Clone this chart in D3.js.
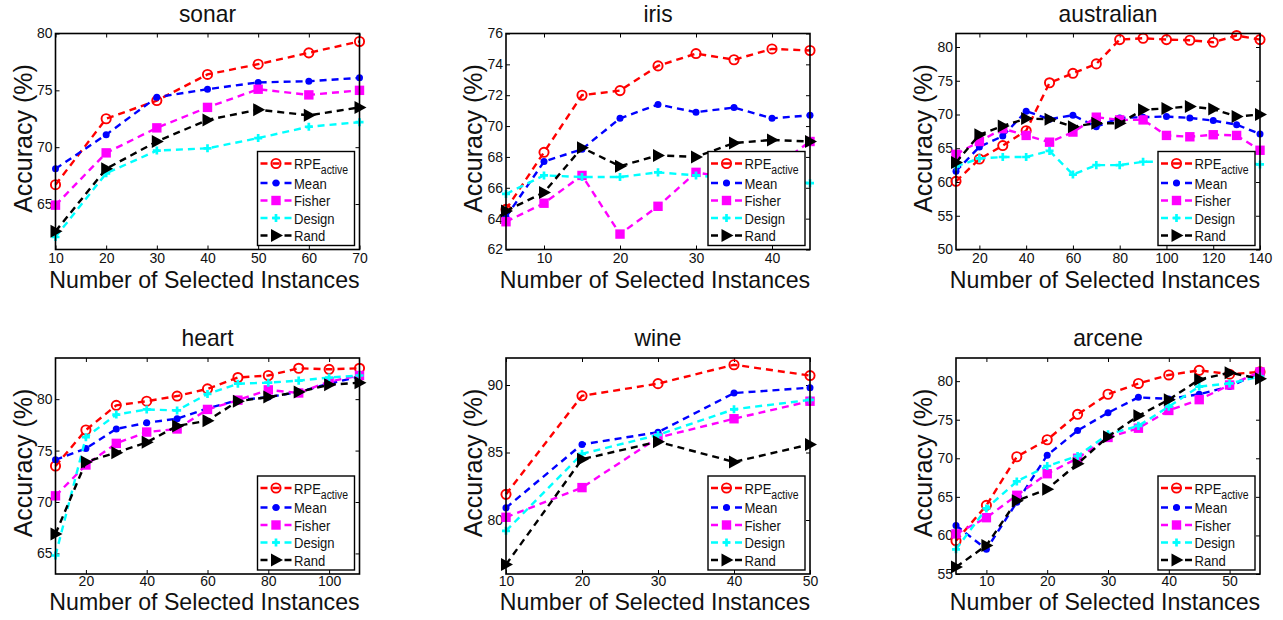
<!DOCTYPE html>
<html>
<head>
<meta charset="utf-8">
<script src="https://cdn.jsdelivr.net/npm/d3@7"></script>
<style>
  body { margin: 0; background: #fff; }
  svg { display: block; font-family: "Liberation Sans", Arial, sans-serif; }
</style>
</head>
<body>
<svg id="chart" width="1283" height="620"></svg>
<script>
// ---- data ----
const seriesNames = ["RPE", "Mean", "Fisher", "Design", "Rand"];

const sonarX = [10, 20, 30, 40, 50, 60, 70];
const sonarRPE = [66.7, 72.5, 74.1, 76.4, 77.3, 78.3, 79.3];
const sonarMean = [68.1, 71.1, 74.4, 75.1, 75.7, 75.8, 76.1];
const sonarFisher = [64.9, 69.5, 71.7, 73.5, 75.1, 74.6, 75.0];
const sonarDesign = [62.1, 67.7, 69.7, 69.9, 70.8, 71.8, 72.2];
const sonarRand = [62.6, 68.1, 70.5, 72.4, 73.3, 72.8, 73.5];

const irisX = [5, 10, 15, 20, 25, 30, 35, 40, 45];
const irisRPE = [64.6, 68.3, 72.0, 72.3, 73.9, 74.7, 74.3, 75.0, 74.9];
const irisMean = [64.1, 67.7, 68.5, 70.5, 71.4, 70.9, 71.2, 70.5, 70.7];
const irisFisher = [63.8, 65.0, 66.8, 63.0, 64.8, 67.0, 66.6, 67.2, 69.0];
const irisDesign = [65.6, 66.8, 66.7, 66.7, 67.0, 66.8, 66.6, 66.5, 66.3];
const irisRand = [64.5, 65.7, 68.6, 67.4, 68.1, 68.0, 68.9, 69.1, 69.0];

const australianX = [10, 20, 30, 40, 50, 60, 70, 80, 90, 100, 110, 120, 130, 140];
const australianRPE = [60.1, 63.4, 65.4, 67.6, 74.7, 76.1, 77.5, 81.1, 81.3, 81.1, 81.0, 80.7, 81.7, 81.1];
const australianMean = [61.6, 65.2, 66.8, 70.5, 69.3, 69.9, 68.2, 69.5, 69.6, 69.7, 69.5, 69.1, 68.5, 67.1];
const australianFisher = [64.1, 66.0, 67.9, 66.9, 65.9, 67.4, 69.6, 69.2, 69.2, 66.9, 66.7, 67.0, 66.9, 64.7];
const australianDesign = [62.3, 63.5, 63.7, 63.7, 64.6, 61.1, 62.5, 62.5, 63.0, 63.0, 63.1, 63.2, 63.0, 62.6];
const australianRand = [62.9, 67.0, 68.3, 69.4, 69.3, 68.2, 68.7, 68.7, 70.7, 70.9, 71.2, 70.8, 69.7, 70.0];

const heartX = [10, 20, 30, 40, 50, 60, 70, 80, 90, 100, 110];
const heartRPE = [73.5, 77.0, 79.4, 79.8, 80.3, 81.0, 82.1, 82.3, 83.0, 82.9, 83.0];
const heartMean = [74.1, 75.2, 77.1, 77.7, 78.1, 79.1, 79.9, 80.2, 80.7, 81.5, 82.2];
const heartFisher = [70.6, 73.6, 75.7, 76.8, 77.1, 79.0, 79.9, 80.9, 80.6, 81.7, 82.3];
const heartDesign = [64.8, 76.3, 78.5, 79.0, 78.9, 80.5, 81.5, 81.6, 81.8, 82.1, 82.3];
const heartRand = [66.9, 73.9, 74.8, 75.8, 77.4, 77.9, 79.8, 80.2, 80.7, 81.4, 81.6];

const wineX = [10, 20, 30, 40, 50];
const wineRPE = [81.9, 89.2, 90.1, 91.5, 90.7];
const wineMean = [80.9, 85.6, 86.5, 89.4, 89.8];
const wineFisher = [80.2, 82.4, 86.1, 87.5, 88.8];
const wineDesign = [79.2, 84.9, 86.3, 88.2, 88.9];
const wineRand = [76.7, 84.5, 85.8, 84.3, 85.6];

const arceneX = [5, 10, 15, 20, 25, 30, 35, 40, 45, 50, 55];
const arceneRPE = [59.3, 63.9, 70.2, 72.4, 75.7, 78.3, 79.7, 80.8, 81.4, 80.9, 81.2];
const arceneMean = [61.3, 58.2, 64.3, 70.4, 73.6, 75.9, 77.9, 77.7, 78.3, 79.3, 81.1];
const arceneFisher = [60.2, 62.3, 65.2, 68.0, 70.0, 72.7, 73.9, 76.2, 77.6, 79.5, 81.2];
const arceneDesign = [58.2, 63.5, 67.0, 69.0, 70.3, 73.1, 74.2, 76.7, 79.3, 79.7, 80.6];
const arceneRand = [55.9, 58.7, 64.5, 66.0, 69.3, 72.8, 75.5, 77.6, 80.2, 81.1, 80.3];

// axis limits and tick labels
const sonarXTicks = [10, 20, 30, 40, 50, 60, 70], sonarYTicks = [65, 70, 75, 80];
const irisXTicks = [10, 20, 30, 40], irisYTicks = [62, 64, 66, 68, 70, 72, 74, 76];
const australianXTicks = [20, 40, 60, 80, 100, 120, 140], australianYTicks = [50, 55, 60, 65, 70, 75, 80];
const heartXTicks = [20, 40, 60, 80, 100], heartYTicks = [65, 70, 75, 80];
const wineXTicks = [10, 20, 30, 40, 50], wineYTicks = [80, 85, 90];
const arceneXTicks = [10, 20, 30, 40, 50], arceneYTicks = [55, 60, 65, 70, 75, 80];

const panels = [
  { title: "sonar", col: 0, row: 0, x: sonarX, xDomain: [10, 70], yDomain: [61, 80], xTicks: sonarXTicks, yTicks: sonarYTicks,
    ys: [sonarRPE, sonarMean, sonarFisher, sonarDesign, sonarRand] },
  { title: "iris", col: 1, row: 0, x: irisX, xDomain: [5, 45], yDomain: [62, 76], xTicks: irisXTicks, yTicks: irisYTicks,
    ys: [irisRPE, irisMean, irisFisher, irisDesign, irisRand] },
  { title: "australian", col: 2, row: 0, x: australianX, xDomain: [10, 140], yDomain: [50, 82], xTicks: australianXTicks, yTicks: australianYTicks,
    ys: [australianRPE, australianMean, australianFisher, australianDesign, australianRand] },
  { title: "heart", col: 0, row: 1, x: heartX, xDomain: [10, 110], yDomain: [63, 84], xTicks: heartXTicks, yTicks: heartYTicks,
    ys: [heartRPE, heartMean, heartFisher, heartDesign, heartRand] },
  { title: "wine", col: 1, row: 1, x: wineX, xDomain: [10, 50], yDomain: [76, 92], xTicks: wineXTicks, yTicks: wineYTicks,
    ys: [wineRPE, wineMean, wineFisher, wineDesign, wineRand] },
  { title: "arcene", col: 2, row: 1, x: arceneX, xDomain: [5, 55], yDomain: [55, 83], xTicks: arceneXTicks, yTicks: arceneYTicks,
    ys: [arceneRPE, arceneMean, arceneFisher, arceneDesign, arceneRand] }
];

// ---- layout ----
const colLeft = [55.5, 506, 956];
const rowTop = [33.5, 358];
const plotW = 304;
const plotH = 216;
const titleY = [22, 346];
const xLabelY = [287.5, 609.5];
const xTickPad = [3.5, 2.5];

const colors = ["#ff0000", "#0000ff", "#ff00ff", "#00ffff", "#000000"];
const svg = d3.select("#chart");

// the figure's text is drawn narrow: squeeze horizontally
function condense(sel, f) {
  sel.each(function () {
    const w = this.getComputedTextLength();
    d3.select(this).attr("textLength", w * f).attr("lengthAdjust", "spacingAndGlyphs");
  });
}

function drawMarker(g, i, cx, cy) {
  const c = colors[i];
  if (i === 0) {
    g.append("circle").attr("cx", cx).attr("cy", cy).attr("r", 4.6)
     .attr("fill", "none").attr("stroke", c).attr("stroke-width", 1.9);
  } else if (i === 1) {
    g.append("circle").attr("cx", cx).attr("cy", cy).attr("r", 3.5).attr("fill", c);
  } else if (i === 2) {
    g.append("rect").attr("x", cx - 4.7).attr("y", cy - 4.7).attr("width", 9.4).attr("height", 9.4).attr("fill", c);
  } else if (i === 3) {
    g.append("path").attr("d", d3.symbol(d3.symbolCross, 36)())
     .attr("transform", `translate(${cx},${cy})`).attr("fill", c);
  } else {
    g.append("path").attr("d", "M-5,-6.5L7,0L-5,6.5Z")
     .attr("transform", `translate(${cx},${cy})`).attr("fill", c);
  }
}

panels.forEach(p => {
  const left = colLeft[p.col], top = rowTop[p.row];
  const x = d3.scaleLinear().domain(p.xDomain).range([left, left + plotW]);
  const y = d3.scaleLinear().domain(p.yDomain).range([top + plotH, top]);
  const g = svg.append("g");

  // axes with inward ticks on all four sides
  const axB = g.append("g").attr("transform", `translate(0,${top + plotH})`)
    .call(d3.axisBottom(x).tickValues(p.xTicks).tickSizeInner(-4).tickSizeOuter(0).tickPadding(xTickPad[p.row]));
  const axT = g.append("g").attr("transform", `translate(0,${top})`)
    .call(d3.axisTop(x).tickValues(p.xTicks).tickSizeInner(-4).tickSizeOuter(0).tickFormat(""));
  const axL = g.append("g").attr("transform", `translate(${left},0)`)
    .call(d3.axisLeft(y).tickValues(p.yTicks).tickSizeInner(-4).tickSizeOuter(0).tickPadding(3));
  const axR = g.append("g").attr("transform", `translate(${left + plotW},0)`)
    .call(d3.axisRight(y).tickValues(p.yTicks).tickSizeInner(-4).tickSizeOuter(0).tickFormat(""));
  [axB, axT, axL, axR].forEach(a => {
    a.select(".domain").remove();
    a.selectAll("line").attr("stroke", "#000").attr("stroke-width", 1);
    a.selectAll("text").attr("font-size", 14).attr("fill", "#111")
     .attr("font-family", "'Liberation Sans', Arial, sans-serif");
  });

  // series
  const line = d3.line().x((d, j) => x(p.x[j])).y(d => y(d));
  p.ys.forEach((vals, i) => {
    g.append("path").datum(vals).attr("d", line)
     .attr("fill", "none").attr("stroke", colors[i]).attr("stroke-width", 2.4)
     .attr("stroke-dasharray", "7,5");
    const mg = g.append("g");
    vals.forEach((v, j) => drawMarker(mg, i, x(p.x[j]), y(v)));
  });

  // frame
  g.append("rect").attr("x", left).attr("y", top).attr("width", plotW).attr("height", plotH)
   .attr("fill", "none").attr("stroke", "#000").attr("stroke-width", 1.6);

  // legend
  const lw = 97, lh = 94;
  const lx = left + plotW - 5 - lw, ly = top + plotH - 4 - lh;
  const lg = g.append("g");
  lg.append("rect").attr("x", lx).attr("y", ly).attr("width", lw).attr("height", lh)
    .attr("fill", "#fff").attr("stroke", "#000").attr("stroke-width", 1.4);
  const rowY = [12, 31.5, 49, 66.5, 84];
  seriesNames.forEach((name, i) => {
    const yy = ly + rowY[i];
    lg.append("line").attr("x1", lx + 3).attr("x2", lx + 34).attr("y1", yy).attr("y2", yy)
      .attr("stroke", colors[i]).attr("stroke-width", 2.4).attr("stroke-dasharray", "7,5");
    drawMarker(lg, i, lx + 18.5, yy);
    const t = lg.append("text").attr("x", lx + 36.5).attr("y", yy + 5.5)
      .attr("font-size", 15).attr("fill", "#111");
    if (i === 0) {
      t.append("tspan").text("RPE");
      t.append("tspan").attr("font-size", 12).attr("dy", 5).text("active");
    } else {
      t.text(name);
    }
    condense(t, 0.87);
  });

  // labels
  const tt = g.append("text").attr("x", left + plotW / 2).attr("y", titleY[p.row])
    .attr("text-anchor", "middle").attr("font-size", 24).attr("fill", "#111").text(p.title);
  condense(tt, 0.95);
  const xl = g.append("text").attr("x", left + plotW / 2 - 3).attr("y", xLabelY[p.row])
    .attr("text-anchor", "middle").attr("font-size", 24).attr("fill", "#111").text("Number of Selected Instances");
  condense(xl, 0.965);
  g.append("text").attr("transform", `translate(${left - 24},${top + plotH / 2 - 3}) rotate(-90)`)
    .attr("text-anchor", "middle").attr("font-size", 25).attr("fill", "#111").text("Accuracy (%)");
});
</script>
</body>
</html>
